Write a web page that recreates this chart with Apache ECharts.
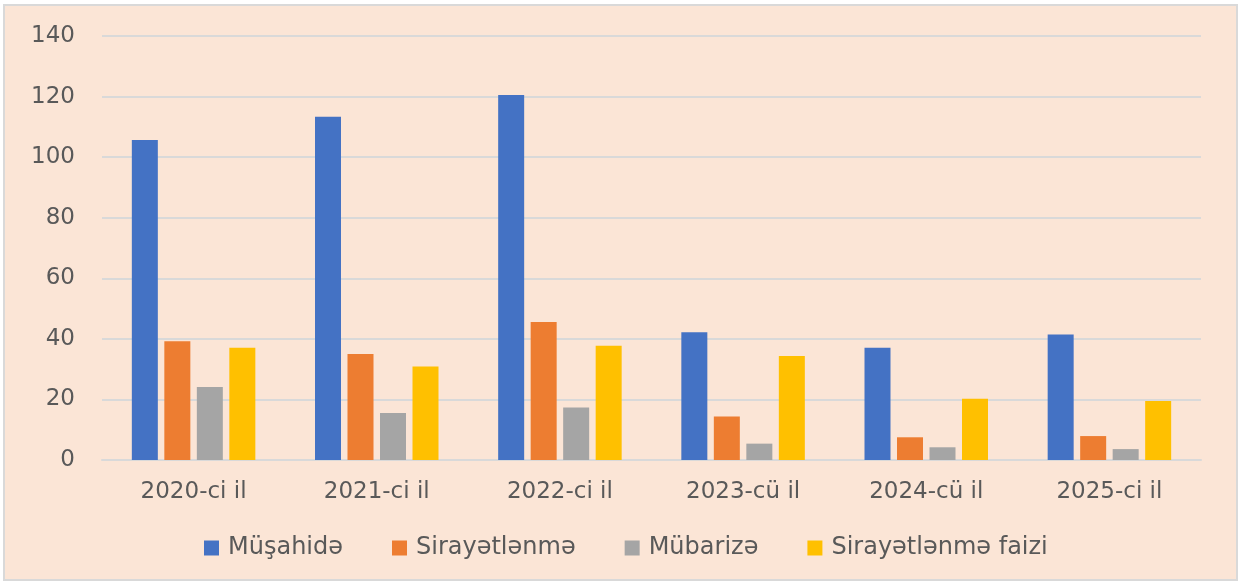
<!DOCTYPE html>
<html>
<head>
<meta charset="utf-8">
<script src="https://cdn.jsdelivr.net/npm/echarts@6/dist/echarts.min.js"></script>
<style>
  body{
    margin:0;
    background:#ffffff;
  }
  #chart{
    position:absolute;
    left:3px;
    top:4px;
    width:1235px;
    height:577px;
    box-sizing:border-box;
    border:2px solid #d9d9d9;
    background:#fbe5d6;
  }
</style>
</head>
<body>
<div id="chart"></div>
<script>
  var years = ["2020-ci il", "2021-ci il", "2022-ci il", "2023-cü il", "2024-cü il", "2025-ci il"];
  var musahide = [105.7, 113.3, 120.5, 42.2, 37.1, 41.4];
  var sirayetlenme = [39.2, 35.0, 45.6, 14.4, 7.5, 7.9];
  var mubarize = [24.1, 15.5, 17.3, 5.4, 4.2, 3.6];
  var faiz = [37.1, 30.9, 37.7, 34.3, 20.2, 19.5];

  var font = "DejaVu Sans";
  var txt = "#595959";

  function bar(name, data, color) {
    return {
      name: name,
      type: 'bar',
      data: data,
      barWidth: 26,
      barGap: '25%',
      itemStyle: { color: color }
    };
  }

  var chart = echarts.init(document.getElementById('chart'));
  chart.setOption({
    animation: false,
    textStyle: { fontFamily: font },
    grid: { left: 97, right: 35, top: 30, bottom: 119 },
    legend: {
      left: 194,
      top: 525,
      itemWidth: 15,
      itemHeight: 15,
      itemGap: 49,
      icon: 'rect',
      textStyle: { fontFamily: font, fontSize: 24, color: txt, padding: [0, 0, 0, 4] },
      data: ['Müşahidə', 'Sirayətlənmə', 'Mübarizə', 'Sirayətlənmə faizi']
    },
    xAxis: {
      type: 'category',
      data: years,
      axisTick: { show: false },
      axisLine: { lineStyle: { color: '#d9d9d9', width: 2 } },
      axisLabel: { color: txt, fontSize: 23, fontFamily: font, margin: 21 }
    },
    yAxis: {
      type: 'value',
      min: 0,
      max: 140,
      interval: 20,
      axisLine: { show: false },
      axisTick: { show: false },
      splitLine: { lineStyle: { color: '#d9d9d9', width: 2 } },
      axisLabel: { color: txt, fontSize: 23, fontFamily: font, margin: 27 }
    },
    series: [
      bar('Müşahidə', musahide, '#4472c4'),
      bar('Sirayətlənmə', sirayetlenme, '#ed7d31'),
      bar('Mübarizə', mubarize, '#a5a5a5'),
      bar('Sirayətlənmə faizi', faiz, '#ffc000')
    ]
  });
</script>
</body>
</html>
